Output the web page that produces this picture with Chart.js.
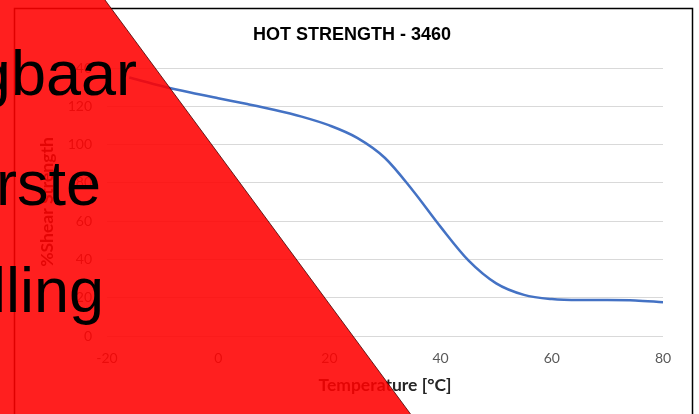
<!DOCTYPE html>
<html lang="en">
<head>
  <meta charset="UTF-8">
  <title>Hot strength - 3460</title>
  <script src="https://cdn.jsdelivr.net/npm/chart.js"></script>
  <style>
    body { margin: 0; background: #fff; }
    #wrap { width: 699px; height: 414px; }
  </style>
</head>
<body>
  <div id="wrap"><canvas id="hotChart"></canvas></div>

  <script>
    // Data
    const temperatures = [-16, -10, -5, 0, 5, 10, 15, 20, 25, 30, 35, 40, 45, 50, 55, 60, 65, 70, 75, 80];
    const shearStrength = [135, 130.5, 127.2, 124.2, 121.3, 118.2, 114.6, 110, 103.5, 93, 76, 57, 39.5, 27.5, 21.5, 19.3, 18.8, 18.8, 18.6, 17.6];
    const xTicks = [-20, 0, 20, 40, 60, 80];
    const yTicks = [0, 20, 40, 60, 80, 100, 120, 140];
    const chartTitle = "HOT STRENGTH - 3460";
    const bannerWords = ["gbaar", "rste", "lling"];

    const points = temperatures.map((t, i) => ({ x: t, y: shearStrength[i] }));

    // Frame + title behind the chart, red corner banner on top
    const decor = {
      id: 'decor',
      beforeDraw(chart) {
        const ctx = chart.ctx;
        ctx.save();
        ctx.fillStyle = '#fff';
        ctx.fillRect(0, 0, chart.width, chart.height);
        ctx.strokeStyle = '#000';
        ctx.lineWidth = 1.5;
        ctx.strokeRect(14.5, 8.5, 678, 430);
        ctx.fillStyle = '#000';
        ctx.font = "bold 18px 'Liberation Sans', Arial, sans-serif";
        ctx.textAlign = 'center';
        ctx.textBaseline = 'middle';
        ctx.fillText(chartTitle, 352, 35);
        ctx.restore();
      },
      afterDraw(chart) {
        const ctx = chart.ctx;
        ctx.save();
        ctx.beginPath();
        ctx.moveTo(0, 0);
        ctx.lineTo(105, 0);
        ctx.lineTo(410.5, 414);
        ctx.lineTo(0, 414);
        ctx.closePath();
        ctx.fillStyle = 'rgba(255, 0, 0, 0.88)';
        ctx.fill();
        ctx.beginPath();
        ctx.moveTo(105, 0);
        ctx.lineTo(410.5, 414);
        ctx.strokeStyle = 'rgba(70, 0, 0, 0.8)';
        ctx.lineWidth = 1;
        ctx.stroke();
        ctx.fillStyle = '#000';
        ctx.font = "63px 'Liberation Sans', Arial, sans-serif";
        ctx.textAlign = 'right';
        ctx.textBaseline = 'alphabetic';
        ctx.fillText(bannerWords[0], 137, 95);
        ctx.fillText(bannerWords[1], 101, 205);
        ctx.fillText(bannerWords[2], 104, 312);
        ctx.restore();
      }
    };

    new Chart(document.getElementById("hotChart"), {
      type: 'scatter',
      data: {
        datasets: [{
          label: "%Shear Strength",
          data: points,
          showLine: true,
          borderColor: "#4472C4",
          borderWidth: 2.5,
          pointRadius: 0,
          cubicInterpolationMode: 'monotone'
        }]
      },
      options: {
        responsive: true,
        maintainAspectRatio: false,
        animation: false,
        layout: { padding: { left: 0, right: 36, top: 68, bottom: 0 } },
        plugins: {
          legend: { display: false },
          tooltip: { enabled: false },
          title: { display: false }
        },
        scales: {
          x: {
            type: 'linear',
            min: xTicks[0],
            max: xTicks[xTicks.length - 1],
            afterBuildTicks: scale => { scale.ticks = xTicks.map(v => ({ value: v })); },
            afterFit: scale => { scale.height = 78; },
            grid: { display: false },
            border: { display: false },
            ticks: { color: "#595959", padding: 6, font: { family: "Lato", size: 14 } },
            title: {
              display: true,
              text: "Temperature [°C]",
              color: "#262626",
              font: { family: "Lato", size: 17.5, weight: 'bold' },
              padding: { top: 0, bottom: 18.5 }
            }
          },
          y: {
            min: yTicks[0],
            max: yTicks[yTicks.length - 1],
            afterBuildTicks: scale => { scale.ticks = yTicks.map(v => ({ value: v })); },
            afterFit: scale => { scale.width = 107; },
            grid: { color: "#d9d9d9", lineWidth: 1, drawTicks: false },
            border: { display: false },
            ticks: { color: "#595959", padding: 15, font: { family: "Lato", size: 14 } },
            title: {
              display: true,
              text: "%Shear Strength",
              color: "#262626",
              font: { family: "Lato", size: 17.5, weight: 'bold' },
              padding: { top: 36.5, bottom: 0 }
            }
          }
        }
      },
      plugins: [decor]
    });
  </script>
</body>
</html>
